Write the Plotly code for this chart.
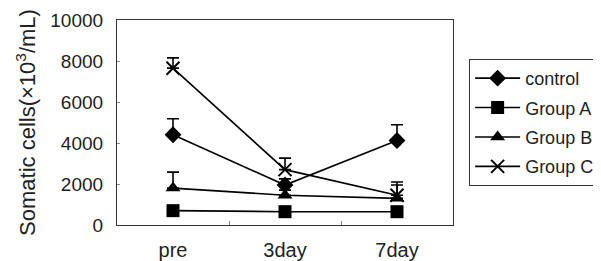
import plotly.graph_objects as go

categories = ["pre", "3day", "7day"]
series_names = ["control", "Group A", "Group B", "Group C"]
control = [4400, 1950, 4120]
control_err = [780, 300, 770]
group_a = [700, 650, 650]
group_a_err = [150, 200, 150]
group_b = [1800, 1450, 1300]
group_b_err = [780, 250, 650]
group_c = [7650, 2700, 1450]
group_c_err = [500, 560, 650]
y_ticks = [0, 2000, 4000, 6000, 8000, 10000]
y_tick_labels = ["0", "2000", "4000", "6000", "8000", "10000"]

values = [control, group_a, group_b, group_c]
errors = [control_err, group_a_err, group_b_err, group_c_err]
symbols = ["diamond", "square", "triangle-up", "x-thin"]
sizes = [13, 13, 13, 13]

FONT = "Liberation Sans"
fig = go.Figure()
for i, name in enumerate(series_names):
    marker = dict(symbol=symbols[i], size=sizes[i], color="black")
    if symbols[i] == "x-thin":
        marker["line"] = dict(width=2, color="black")
    fig.add_trace(go.Scatter(
        x=categories, y=values[i], name=name, mode="lines+markers",
        line=dict(color="black", width=1.6),
        marker=marker,
        legendgroup=name,
        error_y=dict(type="data", symmetric=False, array=errors[i],
                     arrayminus=[0] * len(errors[i]),
                     color="black", thickness=1.6, width=6),
    ))

fig.update_layout(
    width=601, height=261,
    margin=dict(l=109, r=156, t=12, b=44, autoexpand=False),
    paper_bgcolor="white", plot_bgcolor="white",
    font=dict(family=FONT, size=19, color="#222"),
    showlegend=True,
    legend=dict(x=1.048, y=0.81, xanchor="left", yanchor="top",
                bordercolor="#333", borderwidth=1, bgcolor="white",
                font=dict(size=18, family=FONT, color="#222"),
                tracegroupgap=3, itemwidth=45),
)
fig.update_xaxes(type="category", showline=True, linecolor="#333", linewidth=1.2,
                 mirror=True, ticks="inside", tickson="boundaries", ticklen=4,
                 tickcolor="#888", showgrid=False, range=[-0.5, 2.5],
                 ticklabelstandoff=7, automargin=False,
                 tickfont=dict(size=20, family=FONT))
fig.update_yaxes(range=[0, 10000], tickvals=y_ticks, ticktext=y_tick_labels,
                 showline=True, linecolor="#333",
                 linewidth=1.2, mirror=True, ticks="inside", ticklen=3, tickcolor="#888",
                 showgrid=False, zeroline=False, automargin=False,
                 ticklabelstandoff=9,
                 title=dict(text="Somatic cells(×10<sup>3</sup>/mL)", standoff=8,
                            font=dict(size=22, family=FONT)),
                 tickfont=dict(size=19, family=FONT))

fig.write_html("out.html")
